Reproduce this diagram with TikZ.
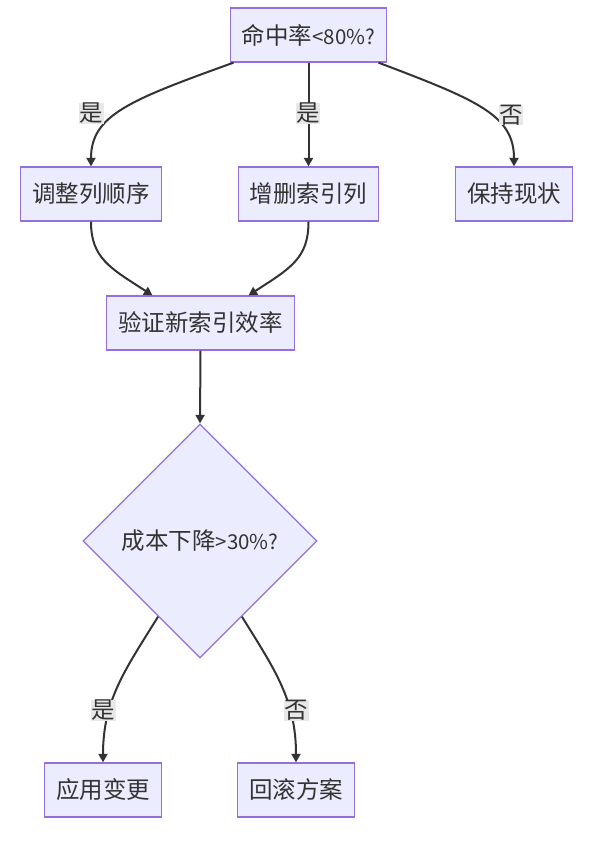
\documentclass[tikz,border=0pt]{standalone}
\usepackage{fontspec}
\setmainfont{Noto Sans CJK SC}
\usetikzlibrary{shapes.geometric,arrows.meta}
\definecolor{nodefill}{HTML}{ECECFF}
\definecolor{nodeborder}{HTML}{9370DB}
\definecolor{edgecol}{HTML}{333333}
\definecolor{txt}{HTML}{333333}
\definecolor{lblbg}{HTML}{E8E8E8}
\newcommand{\latinpart}[1]{{\fontsize{20.5}{24}\selectfont #1}}
\tikzset{
  box/.style={draw=nodeborder, fill=nodefill, line width=1.3pt, minimum height=54pt, inner xsep=11.5pt, inner ysep=0pt, text=txt, font=\fontsize{23.5}{28}\selectfont},
  decision/.style={diamond, draw=nodeborder, fill=nodefill, line width=1.3pt, minimum width=234pt, minimum height=234pt, inner sep=0pt, text=txt, font=\fontsize{23.5}{28}\selectfont},
  edge/.style={draw=edgecol, line width=2pt, -{Triangle[length=8.5pt,width=9pt]}},
  elabel/.style={fill=lblbg, inner sep=0.3pt, text=txt, font=\fontsize{23.5}{28}\selectfont}
}
\begin{document}
\begin{tikzpicture}[x=1pt, y=-1pt]
\useasboundingbox[fill=white] (0,0) rectangle (608,842);
\node[box] (t) at (308.5,35) {命中率\latinpart{<80\%?}};
\node[box] (c1) at (91,194) {调整列顺序};
\node[box] (c2) at (308.5,194) {增删索引列};
\node[box] (c3) at (514,194) {保持现状};
\node[box] (v) at (200.5,323) {验证新索引效率};
\node[decision] (d) at (200,541) {成本下降\latinpart{>30\%?}};
\node[box] (a1) at (103,790) {应用变更};
\node[box] (a2) at (296,790) {回滚方案};

\draw[edge] ([xshift=-75pt]t.south) .. controls (130,100) and (91,115) .. (c1.north);
\draw[edge] (t.south) -- (c2.north);
\draw[edge] ([xshift=70pt]t.south) .. controls (477,100) and (514,115) .. (c3.north);
\draw[edge] (c1.south) .. controls (91,258) and (110,268) .. ([xshift=-48pt]v.north);
\draw[edge] (c2.south) .. controls (308.5,258) and (291,268) .. ([xshift=48pt]v.north);
\draw[edge] (v.south) -- (d.north);
\draw[edge] (d.241) .. controls (125,670) and (103,700) .. (a1.north);
\draw[edge] (d.299) .. controls (275,670) and (296,700) .. (a2.north);

\node[elabel] (l1) at (91.5,113.5) {是};
\node[elabel] (l2) at (308,113.5) {是};
\node[elabel] (l3) at (511,115) {否};
\node[elabel] (l4) at (103.5,710.5) {是};
\node[elabel] (l5) at (296.5,710.5) {否};
\end{tikzpicture}
\end{document}
